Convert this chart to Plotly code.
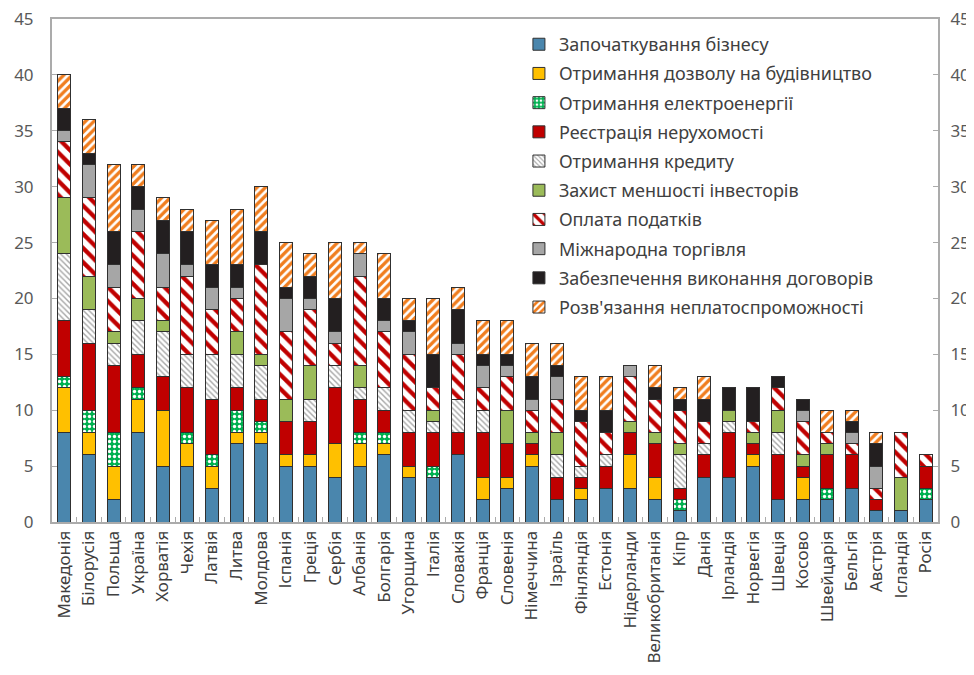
import plotly.graph_objects as go

countries = ["Македонія", "Білорусія", "Польща", "Україна", "Хорватія", "Чехія", "Латвія", "Литва",
             "Молдова", "Іспанія", "Греція", "Сербія", "Албанія", "Болгарія", "Угорщина", "Італія",
             "Словакія", "Франція", "Словенія", "Німеччина", "Ізраїль", "Фінляндія", "Естонія",
             "Нідерланди", "Великобританія", "Кіпр", "Данія", "Ірландія", "Норвегія", "Швеція",
             "Косово", "Швейцарія", "Бельгія", "Австрія", "Ісландія", "Росія"]

starting_business = [8, 6, 2, 8, 5, 5, 3, 7, 7, 5, 5, 4, 5, 6, 4, 4, 6, 2, 3, 5, 2, 2, 3, 3, 2, 1, 4, 4, 5, 2, 2, 2, 3, 1, 1, 2]
construction_permits = [4, 2, 3, 3, 5, 2, 2, 1, 1, 1, 1, 3, 2, 1, 1, 0, 0, 2, 1, 1, 0, 1, 0, 3, 2, 0, 0, 0, 1, 0, 2, 0, 0, 0, 0, 0]
electricity = [1, 2, 3, 1, 0, 1, 1, 2, 1, 0, 0, 0, 1, 1, 0, 1, 0, 0, 0, 0, 0, 0, 0, 0, 0, 1, 0, 0, 0, 0, 0, 1, 0, 0, 0, 1]
property_reg = [5, 6, 6, 3, 3, 4, 5, 2, 2, 3, 3, 5, 3, 2, 3, 3, 2, 4, 3, 1, 2, 1, 2, 2, 3, 1, 2, 4, 1, 4, 1, 3, 3, 1, 0, 2]
credit = [6, 3, 2, 3, 4, 3, 4, 3, 3, 0, 2, 2, 1, 2, 2, 1, 3, 2, 0, 0, 2, 1, 1, 0, 0, 3, 1, 1, 0, 2, 0, 0, 0, 0, 0, 0]
investors = [5, 3, 1, 2, 1, 0, 0, 2, 1, 2, 3, 0, 2, 0, 0, 1, 0, 0, 3, 1, 2, 0, 0, 1, 1, 1, 0, 1, 1, 2, 1, 1, 0, 0, 3, 0]
taxes = [5, 7, 4, 6, 3, 7, 4, 3, 8, 6, 5, 2, 8, 5, 5, 2, 4, 2, 3, 2, 3, 4, 2, 4, 3, 3, 2, 0, 1, 2, 3, 1, 1, 1, 4, 1]
trade = [1, 3, 2, 2, 3, 1, 2, 1, 0, 3, 1, 1, 2, 1, 2, 0, 1, 2, 1, 1, 2, 0, 0, 1, 0, 0, 0, 0, 0, 0, 1, 0, 1, 2, 0, 0]
contracts = [2, 1, 3, 2, 3, 3, 2, 2, 3, 1, 2, 3, 0, 2, 1, 3, 3, 1, 1, 2, 1, 1, 2, 0, 1, 1, 2, 2, 3, 1, 1, 0, 1, 2, 0, 0]
insolvency = [3, 3, 6, 2, 2, 2, 4, 5, 4, 4, 2, 5, 1, 4, 2, 5, 2, 3, 3, 3, 2, 3, 3, 0, 2, 1, 2, 0, 0, 0, 0, 2, 1, 1, 0, 0]

series_names = ["Започаткування бізнесу", "Отримання дозволу на будівництво", "Отримання електроенергії",
                "Реєстрація нерухомості", "Отримання кредиту", "Захист меншості інвесторів",
                "Оплата податків", "Міжнародна торгівля", "Забезпечення виконання договорів",
                "Розв'язання неплатоспроможності"]
series_values = [starting_business, construction_permits, electricity, property_reg, credit,
                 investors, taxes, trade, contracts, insolvency]

styles = [
    dict(color="#4A86AD"),
    dict(color="#FFC000"),
    dict(color="#00B050", pattern=dict(shape=".", fgcolor="#FFFFFF", bgcolor="#00B050", size=5, solidity=0.35, fillmode="replace")),
    dict(color="#C00000"),
    dict(color="#FFFFFF", pattern=dict(shape="\\", fgcolor="#A6A6A6", bgcolor="#FFFFFF", size=4, solidity=0.35, fillmode="replace")),
    dict(color="#9BBB59"),
    dict(color="#FFFFFF", pattern=dict(shape="\\", fgcolor="#C00000", bgcolor="#FFFFFF", size=10, solidity=0.42, fillmode="replace")),
    dict(color="#A6A6A6"),
    dict(color="#231F20"),
    dict(color="#FFFFFF", pattern=dict(shape="/", fgcolor="#F07D1E", bgcolor="#FFFFFF", size=6, solidity=0.55, fillmode="replace")),
]

fig = go.Figure()
for i, (name, vals, st) in enumerate(zip(series_names, series_values, styles)):
    marker = dict(color=st["color"], line=dict(color="#303030", width=1))
    if "pattern" in st:
        marker["pattern"] = st["pattern"]
    fig.add_trace(go.Bar(x=countries, y=vals, name=name, marker=marker, legendgroup=f"g{i}"))

# zero-height bar trace on the right axis so that it is drawn
fig.add_trace(go.Bar(x=countries, y=[0] * len(countries), yaxis="y2", showlegend=False,
                     hoverinfo="skip", marker=dict(color="rgba(0,0,0,0)", line=dict(width=0))))

axis_font = dict(family="Noto Sans", size=17, color="#595959")
fig.update_layout(
    width=958, height=659,
    barmode="stack", bargap=0.47,
    plot_bgcolor="white", paper_bgcolor="white",
    margin=dict(l=44, r=28, t=11, b=145, autoexpand=False),
    font=dict(family="Noto Sans", color="#404040"),
    xaxis=dict(tickangle=-90, tickfont=dict(family="Noto Sans", size=17, color="#404040"),
               range=[-0.5, len(countries) - 0.5],
               showline=True, linecolor="#ABABAB", linewidth=2, mirror=True,
               ticks="inside", tickson="boundaries", ticklen=5, tickcolor="#ABABAB",
               showgrid=False, automargin=False, ticklabeloverflow="allow"),
    yaxis=dict(range=[0, 45], dtick=5, tickfont=axis_font, showgrid=False,
               showline=True, linecolor="#ABABAB", linewidth=1.5, ticks="inside",
               ticklen=5, tickcolor="#ABABAB", zeroline=False, automargin=False,
               ticksuffix="   ", ticklabeloverflow="allow"),
    yaxis2=dict(range=[0, 45], dtick=5, tickfont=axis_font, showgrid=False, overlaying="y",
                side="right", showline=True, linecolor="#ABABAB", linewidth=1.5, ticks="inside",
                ticklen=5, tickcolor="#ABABAB", zeroline=False, automargin=False,
                tickprefix=" \u2009", ticklabeloverflow="allow"),
    legend=dict(x=0.527, y=0.986, xanchor="left", yanchor="top", traceorder="grouped",
                tracegroupgap=2.8, font=dict(family="Noto Sans", size=18, color="#404040"),
                bgcolor="rgba(255,255,255,0)", itemwidth=30),
    showlegend=True,
)

fig.write_html("out.html")
